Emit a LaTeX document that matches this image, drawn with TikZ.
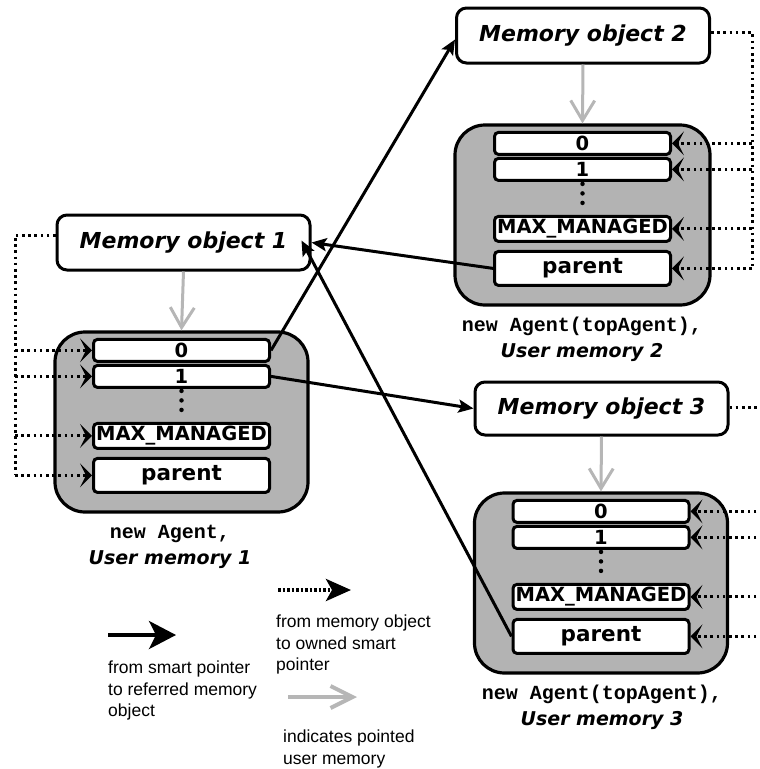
\documentclass[tikz,border=0pt]{standalone}
\usepackage{fontspec}
\setmainfont{Liberation Sans}
\newfontfamily\dvfont{DejaVu Sans}
\newfontfamily\monofont{Liberation Mono}
\usetikzlibrary{arrows.meta,calc}
\definecolor{lgray}{RGB}{179,179,179}
\definecolor{agray}{RGB}{182,182,182}
\begin{document}
\begin{tikzpicture}[x=1pt,y=-1pt,
  mobox/.style={draw, line width=3pt, rounded corners=10pt, fill=white,
    minimum width=253pt, minimum height=55pt, inner sep=0pt,
    font=\dvfont\bfseries\itshape\fontsize{22}{26}\selectfont},
  umbox/.style={draw, line width=3.2pt, rounded corners=30pt, fill=lgray,
    minimum width=253pt, minimum height=180pt, inner sep=0pt},
  slotbox/.style={draw, line width=3pt, rounded corners=4pt, fill=white,
    minimum width=176pt, inner sep=0pt,
    font=\dvfont\bfseries\fontsize{19.5}{22}\selectfont},
  smallslot/.style={slotbox, minimum height=22pt},
  maxslot/.style={slotbox, minimum height=25pt},
  parslot/.style={slotbox, minimum height=34pt, font=\dvfont\bfseries\fontsize{21.5}{24}\selectfont},
  caption/.style={align=center, inner sep=0pt, anchor=north,
    font=\fontsize{20}{26}\selectfont},
  ptr/.style={line width=3pt, -{Stealth[length=15pt, width=13pt, inset=3pt]}},
  own/.style={line width=3pt, dash pattern=on 2.6pt off 3.6pt,
    -{Stealth[length=12pt, width=24pt, inset=6pt]}},
  ownline/.style={line width=3pt, dash pattern=on 2.6pt off 3.6pt},
  usr/.style={draw=agray, line width=3pt, -{Straight Barb[length=20pt, width=24pt]}},
  vdots/.style={line width=4.5pt, line cap=round, dash pattern=on 0pt off 9.5pt},
  legtext/.style={align=left, anchor=north west, inner sep=0pt,
    font=\fontsize{17.5}{21.5}\selectfont}
]
\useasboundingbox (0,0) rectangle (760,769);

% memory objects
\node[mobox] (mo1) at (183.5,242.5) {Memory object 1};
\node[mobox] (mo2) at (583,35.5) {Memory object 2};
\node[mobox, minimum height=53pt] (mo3) at (601.5,408.5) {Memory object 3};

% user memories
\node[umbox] (um1) at (181.5,422) {};
\node[umbox, minimum width=255pt] (um2) at (582.5,215) {};
\node[umbox] (um3) at (601,583) {};

\foreach \u in {1,2,3}{
  \node[smallslot] (s0\u) at ($(um\u.north)+(0,20)$) {0};
  \node[smallslot] (s1\u) at ($(um\u.north)+(0,46)$) {1};
  \node[maxslot]   (mx\u) at ($(um\u.north)+(0,105.5)$) {MAX\_MANAGED};
  \node[parslot]   (pa\u) at ($(um\u.north)+(0,145)$) {parent};
  \draw[vdots] ($(s1\u.south)+(0,2)$) -- ($(mx\u.north)+(0,-5)$);
}

% captions
\node[caption] (c1) at (170,525) {{\monofont\bfseries new Agent,}\\{\dvfont\bfseries\itshape\fontsize{19}{26}\selectfont User memory 1}};
\node[caption] (c2) at (582,317) {{\monofont\bfseries new Agent(topAgent),}\\{\dvfont\bfseries\itshape\fontsize{19}{26}\selectfont User memory 2}};
\node[caption] (c3) at (602,685) {{\monofont\bfseries new Agent(topAgent),}\\{\dvfont\bfseries\itshape\fontsize{19}{26}\selectfont User memory 3}};

% user memory arrows
\draw[usr] (mo1.south) -- (um1.north);
\draw[usr] (mo2.south) -- (um2.north);
\draw[usr] (mo3.south) -- (um3.north);

% ownership (dotted)
\coordinate (t1) at (15,235);
\coordinate (t2) at (752,32);
\coordinate (t3) at (775,407);
\draw[ownline] (mo1.west |- t1) -- (t1) -- (t1 |- pa1.west);
\foreach \s in {s01,s11,mx1,pa1}{
  \draw[own] (t1 |- \s.west) -- (\s.west);
}
\draw[ownline] (mo2.east |- t2) -- (t2) -- (t2 |- pa2.east);
\foreach \s in {s02,s12,mx2,pa2}{
  \draw[own] (t2 |- \s.east) -- (\s.east);
}
\draw[ownline] (mo3.east |- t3) -- (t3);
\foreach \s in {s03,s13,mx3,pa3}{
  \draw[own] (t3 |- \s.east) -- (\s.east);
}

% smart pointer references
\draw[ptr] (s01.east) -- ($(mo2.west)+(0,4)$);
\draw[ptr] (s11.east) -- (mo3.west);
\draw[ptr] (pa2.west) -- (mo1.east);
\draw[ptr] (pa3.west) -- ($(mo1.east)+(-10,-2)$);

% legend
\coordinate (la1) at (108,635);
\coordinate (la2) at (176,635);
\draw[line width=3.5pt, -{Stealth[length=27pt, width=28pt, inset=7pt]}] (la1) -- (la2);
\node[legtext] (lt1) at (108,661) {from smart pointer\\to referred memory\\object};

\coordinate (lb1) at (278,590);
\coordinate (lb2) at (351,590);
\draw[line width=4pt, dash pattern=on 2.5pt off 2pt, -{Stealth[length=25pt, width=22pt, inset=6pt]}] (lb1) -- (lb2);
\node[legtext] (lt2) at (276,615) {from memory object\\to owned smart\\pointer};

\coordinate (lc1) at (288,697);
\coordinate (lc2) at (357,697);
\draw[draw=agray, line width=4pt, -{Straight Barb[length=22pt, width=22pt]}] (lc1) -- (lc2);
\node[legtext] (lt3) at (283,730) {indicates pointed\\user memory};
\end{tikzpicture}
\end{document}
